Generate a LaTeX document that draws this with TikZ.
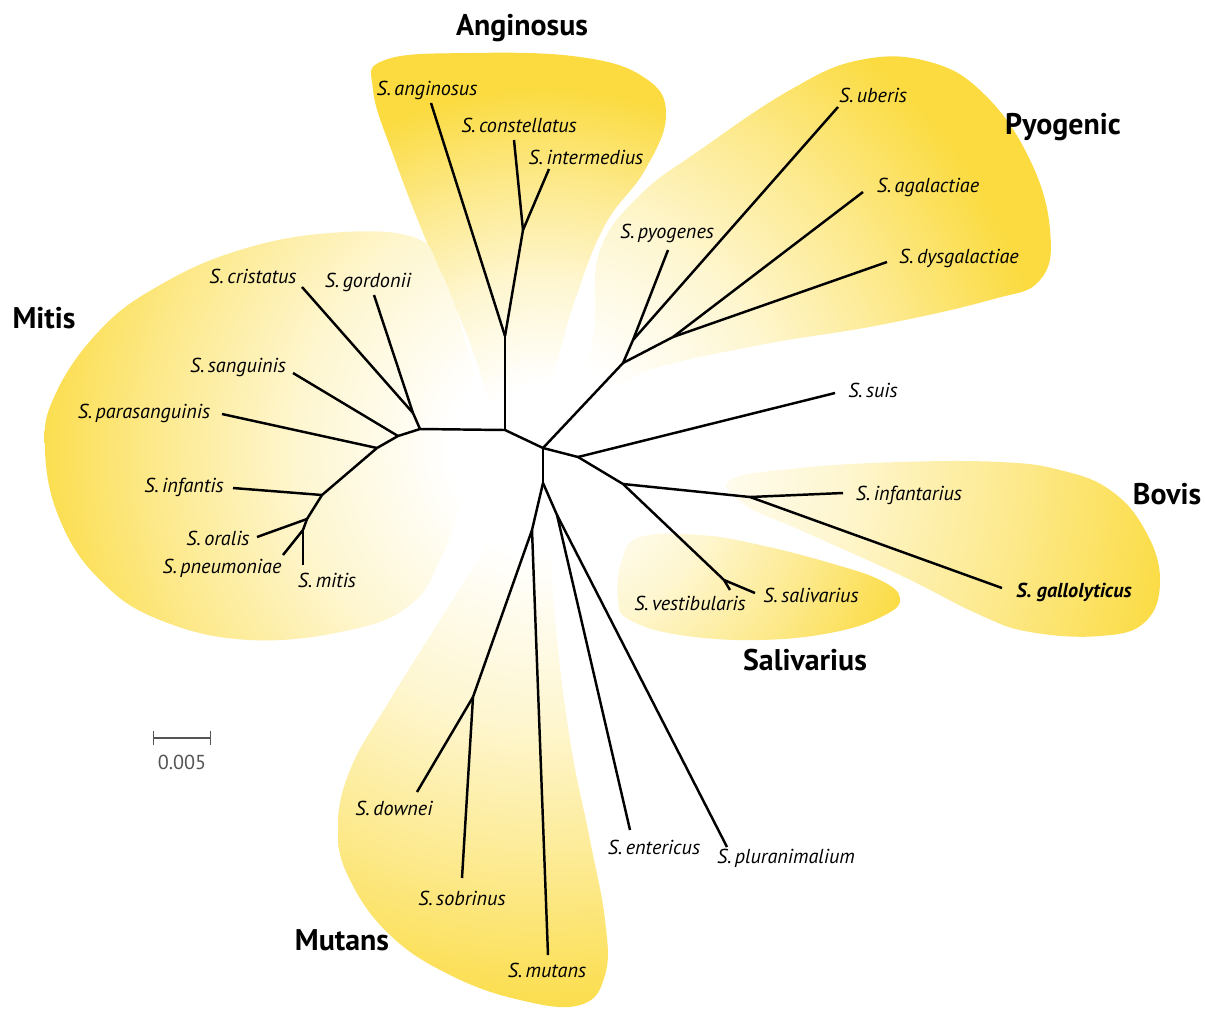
\documentclass[tikz,border=0pt]{standalone}
\usepackage{fontspec}
\setmainfont{PT Sans}
\usepackage{tikz}
\usetikzlibrary{arrows.meta}
\definecolor{blobyellow}{RGB}{251,219,64}
\definecolor{bargray}{RGB}{85,85,85}
\pgfdeclareradialshading{fan}{\pgfpoint{0bp}{0bp}}{color(0bp)=(white); color(3bp)=(white); color(8bp)=(blobyellow!25); color(12.5bp)=(blobyellow!60); color(17bp)=(blobyellow); color(50bp)=(blobyellow)}

\begin{document}
\begin{tikzpicture}
[x=0.02cm,y=-0.02cm,
 br/.style={draw=black,line width=1.4pt,line join=round},
 sp/.style={font=\fontsize{11.5}{13}\selectfont\itshape,inner sep=1pt},
 clade/.style={font=\fontsize{17}{20}\selectfont\bfseries,inner sep=1pt},
 scl/.style={draw=bargray,line width=0.8pt,{Bar[width=8pt]}-{Bar[width=8pt]}}]
\useasboundingbox (0,0) rectangle (1206,1008);

\coordinate (J1) at (505,430);
\coordinate (J2) at (543,448);
\coordinate (J3) at (543,483);
\coordinate (A0) at (505,336);
\coordinate (CI) at (523,230);
\coordinate (MJ) at (420,429);
\coordinate (CG) at (413,413);
\coordinate (SA) at (398,436);
\coordinate (PA) at (377,448);
\coordinate (IN) at (322,495);
\coordinate (OR) at (307,519);
\coordinate (PM) at (303,530);
\coordinate (P0) at (623,363);
\coordinate (P1) at (633,340);
\coordinate (P2) at (673,337);
\coordinate (S1) at (578,457);
\coordinate (B0) at (623,484);
\coordinate (B1) at (750,497);
\coordinate (SV) at (724,580);
\coordinate (M0) at (532,530);
\coordinate (DS) at (473,697);
\coordinate (E0) at (557,515);

\coordinate (ang) at (431,103);
\coordinate (con) at (514,140);
\coordinate (int) at (549,169);
\coordinate (cri) at (302,287);
\coordinate (gor) at (374,295);
\coordinate (san) at (293,373);
\coordinate (par) at (222,414);
\coordinate (inf) at (233,488);
\coordinate (ora) at (257,537);
\coordinate (pne) at (283,555);
\coordinate (mit) at (303,565);
\coordinate (pyo) at (668,250);
\coordinate (ube) at (838,107);
\coordinate (aga) at (863,192);
\coordinate (dys) at (887,262);
\coordinate (sui) at (835,393);
\coordinate (ifa) at (843,493);
\coordinate (gal) at (1002,588);
\coordinate (ves) at (730,590);
\coordinate (sal) at (755,593);
\coordinate (dow) at (417,792);
\coordinate (sob) at (462,878);
\coordinate (mut) at (548,955);
\coordinate (ent) at (630,830);
\coordinate (plu) at (727,847);

\begin{scope}
\clip plot[smooth cycle,tension=0.7] coordinates {(373,90) (385,60) (470,53) (580,57) (645,78) (666,115) (645,170) (605,225) (575,300) (550,380) (520,430) (495,410) (465,330) (430,250) (395,160)};
\shade[shading=fan] (J2) circle [radius=10.6cm];
\end{scope}
\begin{scope}
\clip plot[smooth cycle,tension=0.7] coordinates {(600,250) (640,195) (700,150) (790,90) (860,60) (930,62) (985,95) (1030,160) (1050,230) (1040,280) (990,300) (880,325) (760,345) (650,370) (590,400) (595,320)};
\shade[shading=fan] (J2) circle [radius=15cm];
\end{scope}
\begin{scope}
\clip plot[smooth cycle,tension=0.7] coordinates {(413,237) (330,233) (240,250) (160,285) (100,330) (55,395) (45,450) (60,520) (100,580) (160,620) (250,640) (350,630) (410,605) (440,560) (465,490) (480,420) (465,340) (440,270)};
\shade[shading=fan] (J2) circle [radius=15.5cm];
\end{scope}
\begin{scope}
\clip plot[smooth cycle,tension=0.7] coordinates {(525,470) (490,540) (440,620) (390,700) (350,770) (338,830) (350,880) (390,935) (450,975) (520,1000) (580,1005) (605,975) (605,920) (590,840) (570,740) (555,620) (548,520)};
\shade[shading=fan] (J2) circle [radius=17.2cm];
\end{scope}
\begin{scope}
\clip plot[smooth cycle,tension=0.7] coordinates {(640,537) (700,535) (760,545) (830,563) (880,580) (900,598) (885,615) (835,632) (760,640) (680,635) (630,620) (618,600) (622,560)};
\shade[shading=fan] (J2) circle [radius=11.6cm];
\end{scope}
\begin{scope}
\clip plot[smooth cycle,tension=0.7] coordinates {(730,480) (800,468) (900,462) (1000,462) (1060,470) (1110,490) (1145,530) (1160,580) (1145,622) (1100,636) (1030,632) (980,615) (900,575) (800,530) (745,505)};
\shade[shading=fan] (J2) circle [radius=19cm];
\end{scope}

\foreach \a/\b in {J1/J2,J2/J3,J1/A0,A0/ang,A0/CI,CI/con,CI/int,
  J1/MJ,MJ/CG,CG/cri,CG/gor,MJ/SA,SA/san,SA/PA,PA/par,PA/IN,IN/inf,IN/OR,OR/ora,OR/PM,PM/pne,PM/mit,
  J2/P0,P0/P1,P1/pyo,P1/ube,P0/P2,P2/aga,P2/dys,
  J2/S1,S1/sui,S1/B0,B0/B1,B1/ifa,B1/gal,B0/SV,SV/ves,SV/sal,
  J3/M0,M0/DS,DS/dow,DS/sob,M0/mut,J3/E0,E0/ent,E0/plu}
  \draw[br] (\a) -- (\b);

\node[clade] (Ang) at (522,28) {Anginosus};
\node[clade] (Pyo) at (1063,127) {Pyogenic};
\node[clade] (Mit) at (44,318) {Mitis};
\node[clade] (Bov) at (1167,494) {Bovis};
\node[clade] (Sal) at (805,660) {Salivarius};
\node[clade] (Mut) at (342,940) {Mutans};

\node[sp] (Lang) at (427,90) {S.\,anginosus};
\node[sp] (Lcon) at (519,125) {S.\,constellatus};
\node[sp] (Lint) at (586,157) {S.\,intermedius};
\node[sp] (Lcri) at (253,276) {S.\,cristatus};
\node[sp] (Lgor) at (368,282) {S.\,gordonii};
\node[sp] (Lsan) at (238,367) {S.\,sanguinis};
\node[sp] (Lpar) at (144,413) {S.\,parasanguinis};
\node[sp] (Linf) at (184,487) {S.\,infantis};
\node[sp] (Lora) at (218,538) {S.\,oralis};
\node[sp] (Lpne) at (222,568) {S.\,pneumoniae};
\node[sp] (Lmit) at (327,580) {S.\,mitis};
\node[sp] (Lpyo) at (667,233) {S.\,pyogenes};
\node[sp] (Lube) at (873,95) {S.\,uberis};
\node[sp] (Laga) at (928,187) {S.\,agalactiae};
\node[sp] (Ldys) at (959,258) {S.\,dysgalactiae};
\node[sp] (Lsui) at (873,390) {S.\,suis};
\node[sp] (Lifa) at (909,495) {S.\,infantarius};
\node[sp,font=\fontsize{11.5}{13}\selectfont\itshape\bfseries] (Lgal) at (1074,592) {S. gallolyticus};
\node[sp] (Lves) at (690,603) {S.\,vestibularis};
\node[sp] (Lsal) at (811,595) {S.\,salivarius};
\node[sp] (Ldow) at (394,808) {S.\,downei};
\node[sp] (Lsob) at (462,898) {S.\,sobrinus};
\node[sp] (Lmut) at (547,970) {S.\,mutans};
\node[sp] (Lent) at (654,847) {S.\,entericus};
\node[sp] (Lplu) at (786,858) {S.\,pluranimalium};

\coordinate (sb1) at (153,738);
\coordinate (sb2) at (211,738);
\draw[scl] (sb1) -- (sb2);
\node[font=\fontsize{11.5}{13}\selectfont,text=bargray] (Lsb) at (182,762) {0.005};

\end{tikzpicture}
\end{document}
